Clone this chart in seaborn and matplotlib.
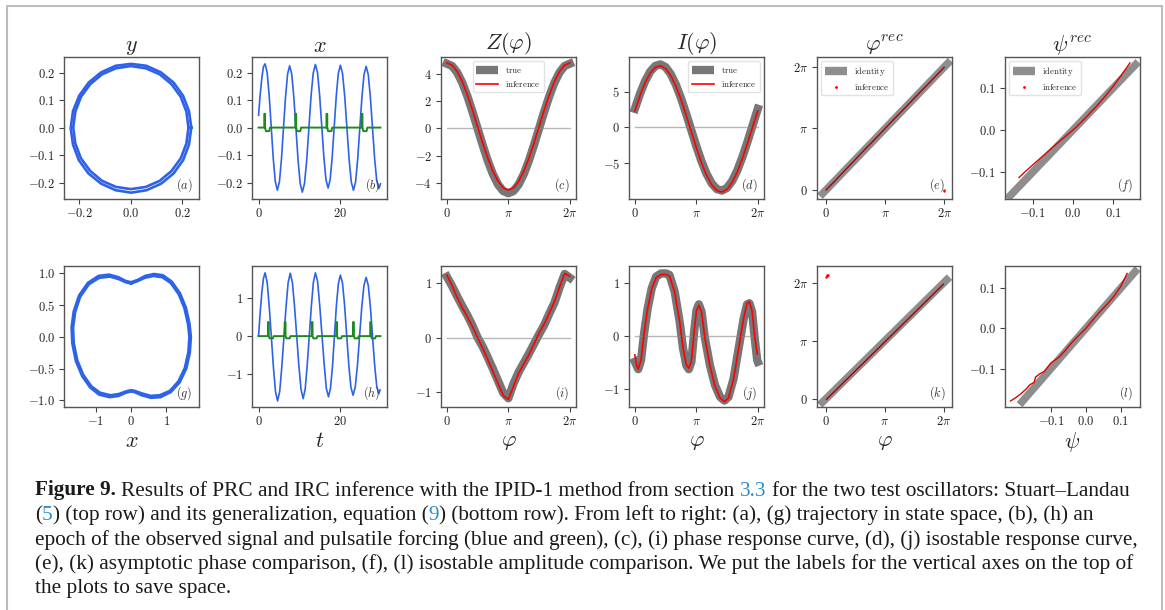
import numpy as np
import seaborn as sns
import matplotlib.pyplot as plt
from matplotlib.lines import Line2D
from matplotlib.patches import Rectangle

sns.set_theme(style="ticks")
plt.rcParams['mathtext.fontset'] = 'cm'
plt.rcParams['font.family'] = ['DejaVu Serif']
plt.rcParams['lines.solid_capstyle'] = 'projecting'

# ---------------- data ----------------
# (a) Stuart-Landau trajectory, two loops of the band
a_out_x = [0.235, 0.226, 0.203, 0.166, 0.117, 0.060, 0.001, -0.059, -0.116, -0.164, -0.201, -0.225, -0.234,
           -0.225, -0.202, -0.165, -0.116, -0.059, 0.001, 0.061, 0.118, 0.166, 0.203, 0.226, 0.235]
a_out_y = [0.0, 0.060, 0.116, 0.164, 0.201, 0.225, 0.232, 0.225, 0.201, 0.164, 0.116, 0.060, -0.002,
           -0.062, -0.119, -0.167, -0.204, -0.228, -0.237, -0.228, -0.204, -0.167, -0.119, -0.062, 0.0]
a_in_x = [0.224, 0.216, 0.194, 0.158, 0.112, 0.058, 0.0, -0.058, -0.112, -0.158, -0.194, -0.216, -0.224,
          -0.216, -0.194, -0.158, -0.112, -0.058, 0.0, 0.058, 0.112, 0.158, 0.194, 0.216, 0.224]
a_in_y = [0.0, 0.058, 0.112, 0.158, 0.194, 0.216, 0.224, 0.216, 0.194, 0.158, 0.112, 0.058, 0.0,
          -0.058, -0.112, -0.158, -0.194, -0.216, -0.224, -0.216, -0.194, -0.158, -0.112, -0.058, 0.0]

# (b) observed signal and forcing
b_t = [0.0, 0.4, 0.8, 1.2, 1.6, 2.1, 2.6, 3.1, 3.6, 4.1, 4.6, 5.1, 5.6, 6.1, 6.6, 7.1, 7.6,
       8.12, 8.63, 9.15, 9.67, 10.18, 10.7, 11.23, 11.77, 12.3, 12.83, 13.37, 13.9,
       14.42, 14.93, 15.45, 15.97, 16.48, 17.0, 17.5, 18.0, 18.5, 19.0, 19.5, 20.0,
       20.53, 21.07, 21.6, 22.13, 22.67, 23.2, 23.72, 24.23, 24.75, 25.27, 25.78, 26.3,
       26.82, 27.33, 27.85, 28.37, 28.88, 29.4, 29.8]
b_x = [0.045, 0.12, 0.18, 0.222, 0.232, 0.201, 0.117, 0.002, -0.113, -0.197, -0.228,
       -0.198, -0.115, 0.0, 0.112, 0.195, 0.225, 0.194, 0.110, -0.005, -0.120, -0.204, -0.235,
       -0.204, -0.119, -0.003, 0.114, 0.199, 0.230, 0.200, 0.118, 0.005, -0.108, -0.190, -0.220,
       -0.190, -0.108, 0.004, 0.115, 0.197, 0.227, 0.197, 0.113, 0.0, -0.114, -0.198, -0.228,
       -0.198, -0.115, -0.003, 0.110, 0.193, 0.223, 0.193, 0.112, 0.0, -0.111, -0.192, -0.222, -0.205]
b_ft = [0.0, 1.4, 1.4, 1.6, 1.6, 1.8, 2.6, 2.8, 9.0, 9.0, 9.2, 9.2, 9.4, 10.2, 10.4,
        16.6, 16.6, 16.8, 16.8, 17.0, 17.8, 18.0, 25.2, 25.2, 25.4, 25.4, 25.6, 26.4, 26.6, 29.8]
b_f = [0.0, 0.0, 0.05, 0.05, 0.0, -0.013, -0.013, 0.0, 0.0, 0.05, 0.05, 0.0, -0.013, -0.013, 0.0,
       0.0, 0.05, 0.05, 0.0, -0.013, -0.013, 0.0, 0.0, 0.05, 0.05, 0.0, -0.013, -0.013, 0.0, 0.0]

# (c), (d) PRC / IRC on a grid of 25 phases
phi25 = np.linspace(0, 2 * np.pi, 25)
c_true = [4.72, 4.56, 4.09, 3.34, 2.36, 1.22, 0.0, -1.22, -2.36, -3.34, -4.09, -4.56, -4.72,
          -4.56, -4.09, -3.34, -2.36, -1.22, 0.0, 1.22, 2.36, 3.34, 4.09, 4.56, 4.72]
c_inf = [4.78, 4.62, 4.16, 3.42, 2.46, 1.34, 0.13, -1.07, -2.18, -3.13, -3.86, -4.33, -4.49,
         -4.33, -3.86, -3.13, -2.18, -1.07, 0.13, 1.34, 2.46, 3.42, 4.16, 4.62, 4.78]
d_true = [2.6, 4.69, 6.45, 7.78, 8.57, 8.78, 8.4, 7.44, 5.97, 4.10, 1.95, -0.33, -2.6,
          -4.69, -6.45, -7.78, -8.57, -8.78, -8.4, -7.44, -5.97, -4.10, -1.95, 0.33, 2.6]
d_inf = [2.3, 4.45, 6.25, 7.58, 8.37, 8.58, 8.2, 7.24, 5.77, 3.9, 1.75, -0.53, -2.8,
         -4.89, -6.65, -7.98, -8.77, -8.98, -8.6, -7.64, -6.17, -4.3, -2.15, 0.13, 2.3]

# (e), (f) phase / amplitude comparison
e_id = [-0.18, 6.47]
e_x = [0.0, 0.5, 1.0, 1.5, 2.0, 2.5, 3.0, 3.5, 4.0, 4.5, 5.0, 5.5, 6.0, 6.27]
e_y = [0.0, 0.49, 1.0, 1.5, 2.01, 2.5, 3.0, 3.51, 4.0, 4.5, 5.0, 5.49, 5.99, 6.26]
e_out_x = [6.24, 6.26]
e_out_y = [-0.03, -0.01]
f_id = [-0.157, 0.156]
f_x = [-0.134, -0.12, -0.1, -0.08, -0.06, -0.04, -0.02, 0.0, 0.02, 0.04, 0.06, 0.08, 0.1, 0.12, 0.142]
f_y = [-0.113, -0.100, -0.083, -0.066, -0.049, -0.032, -0.016, 0.0, 0.018, 0.038, 0.058, 0.080,
       0.104, 0.130, 0.160]

# (g) generalized oscillator trajectory
g_out_x = [0, 0.2, 0.4, 0.65, 0.9, 1.15, 1.38, 1.55, 1.65, 1.69, 1.66, 1.56, 1.37, 1.12, 0.83, 0.56,
           0.3, 0.1, 0, -0.15, -0.35, -0.6, -0.9, -1.15, -1.38, -1.56, -1.66, -1.68, -1.62, -1.47,
           -1.22, -0.92, -0.62, -0.36, -0.15, 0]
g_out_y = [0.86, 0.90, 0.96, 0.99, 0.97, 0.87, 0.69, 0.46, 0.21, 0.0, -0.25, -0.50, -0.72, -0.87,
           -0.95, -0.96, -0.92, -0.87, -0.86, -0.88, -0.93, -0.95, -0.91, -0.80, -0.62, -0.38, -0.10,
           0.15, 0.40, 0.65, 0.85, 0.96, 0.98, 0.94, 0.88, 0.86]
g_in_x = [0, 0.19, 0.39, 0.63, 0.88, 1.12, 1.35, 1.51, 1.61, 1.65, 1.62, 1.52, 1.34, 1.1, 0.81, 0.55,
          0.3, 0.1, 0, -0.15, -0.34, -0.58, -0.88, -1.12, -1.35, -1.52, -1.62, -1.64, -1.58, -1.44,
          -1.19, -0.9, -0.6, -0.35, -0.15, 0]
g_in_y = [0.84, 0.88, 0.93, 0.96, 0.94, 0.85, 0.67, 0.45, 0.2, 0.0, -0.24, -0.49, -0.7, -0.85,
          -0.92, -0.93, -0.89, -0.85, -0.84, -0.86, -0.9, -0.92, -0.88, -0.78, -0.6, -0.37, -0.1,
          0.14, 0.39, 0.63, 0.83, 0.93, 0.95, 0.91, 0.86, 0.84]

# (h) observed signal and forcing
h_t = [0.0, 0.4, 0.8, 1.2, 1.6, 2.11, 2.62, 3.13, 3.63, 4.14, 4.65, 5.17, 5.68, 6.2, 6.72, 7.23, 7.75,
       8.28, 8.8, 9.33, 9.85, 10.38, 10.9, 11.4, 11.9, 12.4, 12.9, 13.4, 13.9, 14.43, 14.97, 15.5,
       16.03, 16.57, 17.1, 17.58, 18.07, 18.55, 19.03, 19.52, 20.0, 20.52, 21.03, 21.55, 22.07,
       22.58, 23.1, 23.63, 24.17, 24.7, 25.23, 25.77, 26.3, 26.82, 27.33, 27.85, 28.37, 28.88,
       29.4, 29.7]
h_x = [0.0, 0.62, 1.15, 1.52, 1.67, 1.42, 0.77, -0.02, -0.81, -1.46, -1.71, -1.46, -0.82, -0.025,
       0.77, 1.41, 1.66, 1.41, 0.78, 0.0, -0.77, -1.4, -1.65, -1.4, -0.76, 0.01, 0.78, 1.42, 1.67,
       1.45, 0.79, 0.03, -0.72, -1.38, -1.6, -1.38, -0.8, 0.0, 0.81, 1.39, 1.61, 1.4, 0.82, 0.02,
       -0.77, -1.35, -1.56, -1.35, -0.78, 0.0, 0.77, 1.34, 1.55, 1.34, 0.78, 0.01, -0.75, -1.31,
       -1.52, -1.42]
h_ft = [0.0, 2.3, 2.3, 2.5, 2.5, 2.7, 3.5, 3.7, 6.4, 6.4, 6.6, 6.6, 6.8, 7.6, 7.8,
        13.0, 13.0, 13.2, 13.2, 13.4, 14.2, 14.4, 19.0, 19.0, 19.2, 19.2, 19.4, 20.2, 20.4,
        23.1, 23.1, 23.3, 23.3, 23.5, 24.3, 24.5, 27.3, 27.3, 27.5, 27.5, 27.7, 28.5, 28.7, 29.8]
h_f = [0.0] + [0.0, 0.37, 0.37, 0.0, -0.06, -0.06, 0.0] * 6 + [0.0]

# (i) PRC, (j) IRC of the generalized oscillator
i_true = [1.12, 0.95, 0.76, 0.58, 0.41, 0.22, 0.0, -0.17, -0.37, -0.58, -0.80, -1.02, -1.12,
          -0.85, -0.64, -0.47, -0.30, -0.12, 0.06, 0.23, 0.44, 0.64, 0.92, 1.17, 1.10]
i_inf = [1.15, 0.96, 0.74, 0.55, 0.38, 0.20, 0.0, -0.20, -0.41, -0.63, -0.85, -1.07, -1.14,
         -0.90, -0.66, -0.49, -0.32, -0.12, 0.08, 0.25, 0.45, 0.66, 0.93, 1.18, 1.13]
j_true_phi = [0, 0.055, 0.1, 0.153, 0.208, 0.274, 0.345, 0.427, 0.51, 0.564, 0.647, 0.729, 0.784,
              0.838, 0.877, 0.92, 0.964, 1.003, 1.041, 1.085, 1.14, 1.222, 1.304, 1.386, 1.458,
              1.523, 1.605, 1.688, 1.77, 1.825, 1.863, 1.907, 1.95, 1.99, 2.0]  # units of pi
j_true = [-0.48, -0.62, -0.45, 0.08, 0.52, 0.90, 1.12, 1.18, 1.18, 1.15, 0.84, 0.27, -0.23, -0.55,
          -0.62, -0.48, 0.08, 0.49, 0.60, 0.46, -0.04, -0.55, -0.92, -1.14, -1.21, -1.14, -0.80,
          -0.23, 0.33, 0.60, 0.62, 0.46, -0.04, -0.45, -0.48]
j_inf_phi = [0, 0.03, 0.055, 0.1, 0.153, 0.208, 0.274, 0.345, 0.427, 0.51, 0.564, 0.647, 0.729,
             0.784, 0.838, 0.877, 0.92, 0.964, 1.003, 1.041, 1.085, 1.14, 1.222, 1.304, 1.386,
             1.458, 1.523, 1.605, 1.688, 1.77, 1.825, 1.863, 1.907, 1.95, 1.99]
j_inf = [-0.35, -0.55, -0.62, -0.44, 0.08, 0.52, 0.89, 1.10, 1.16, 1.16, 1.13, 0.83, 0.27, -0.22,
         -0.54, -0.60, -0.47, 0.08, 0.48, 0.58, 0.45, -0.04, -0.56, -0.94, -1.16, -1.23, -1.16,
         -0.81, -0.23, 0.34, 0.62, 0.65, 0.47, 0.0, -0.33]

# (k), (l) comparisons
k_id = [-0.2, 6.45]
k_x = [0.02, 0.5, 1.0, 1.5, 2.0, 2.5, 3.0, 3.5, 4.0, 4.5, 5.0, 5.5, 6.0, 6.27]
k_y = [-0.04, 0.44, 0.94, 1.44, 1.94, 2.44, 2.94, 3.44, 3.94, 4.44, 4.94, 5.44, 5.94, 6.21]
k_out_x = [0.0, 0.03, 0.06, 0.08]
k_out_y = [6.62, 6.66, 6.70, 6.73]
l_id = [-0.183, 0.142]
l_x = [-0.216, -0.2, -0.185, -0.17, -0.16, -0.154, -0.148, -0.144, -0.13, -0.12, -0.11, -0.1,
       -0.09, -0.076, -0.06, -0.047, -0.03, -0.015, 0.0, 0.02, 0.041, 0.06, 0.08, 0.1, 0.119]
l_y = [-0.181, -0.172, -0.162, -0.150, -0.140, -0.1375, -0.134, -0.121, -0.112, -0.108, -0.097,
       -0.086, -0.080, -0.071, -0.056, -0.042, -0.026, -0.013, 0.0, 0.021, 0.042, 0.059, 0.079,
       0.104, 0.1375]

# tick labels
pi_ticks = [0, np.pi, 2 * np.pi]
pi_labels = [r'$0$', r'$\pi$', r'$2\pi$']
small_ticks = [-0.2, -0.1, 0.0, 0.1, 0.2]
small_labels = [r'$-0.2$', r'$-0.1$', r'$0.0$', r'$0.1$', r'$0.2$']

titles = [r'$y$', r'$x$', r'$Z(\varphi)$', r'$I(\varphi)$', r'$\varphi^{rec}$', r'$\psi^{rec}$']
xlabels = [r'$x$', r'$t$', r'$\varphi$', r'$\varphi$', r'$\varphi$', r'$\psi$']

BLUE = '#2e62e9'
GREEN = '#1e8a1e'
GRAY = '#777777'
IDGRAY = '#8e8e8e'
RED = '#ff0000'

# ---------------- figure ----------------
W, H = 1165, 610
fig = plt.figure(figsize=(W / 100, H / 100), dpi=100)
lefts = [64, 252, 441, 629, 817, 1005]
names = [list('abcdef'), list('ghijkl')]
ax = {}
for r, (top, hgt) in enumerate([(57, 142), (266, 141)]):
    for c, left in enumerate(lefts):
        ax[names[r][c]] = fig.add_axes([left / W, 1 - (top + hgt) / H, 135 / W, hgt / H])


def line(a, x, y, **kw):
    sns.lineplot(x=x, y=y, ax=a, sort=False, estimator=None, legend=False, **kw)


def style(a, xt, xl, yt, yl, xlim, ylim, tag):
    a.set_xticks(xt, xl)
    a.set_yticks(yt, yl)
    a.set_xlim(xlim)
    a.set_ylim(ylim)
    a.set(xlabel='', ylabel='')
    a.tick_params(labelsize=9, length=3.5, width=0.8, color='#444444', labelcolor='#222222')
    a.tick_params(axis='x', pad=2.5)
    a.tick_params(axis='y', pad=3)
    for s in a.spines.values():
        s.set_color('#555555')
        s.set_linewidth(1.0)
    a.text(0.95, 0.1, r'$(%s)$' % tag, transform=a.transAxes, ha='right', va='center',
           fontsize=8.8, color='#333333')


def curve_legend(a, loc, first, dot=False):
    h1 = Line2D([], [], color=GRAY if not dot else IDGRAY, lw=6, solid_capstyle='butt')
    if dot:
        h2 = Line2D([], [], color=RED, marker='.', ms=2, ls='none')
    else:
        h2 = Line2D([], [], color=RED, lw=1.2)
    a.legend([h1, h2], [r'$\mathrm{%s}$' % first, r'$\mathrm{inference}$'], loc=loc, fontsize=6.3,
             handlelength=2.5, borderpad=0.4, labelspacing=0.45, framealpha=0.85,
             edgecolor='#dddddd', fancybox=True)


# trajectories
for key, ox, oy, ix, iy in [('a', a_out_x, a_out_y, a_in_x, a_in_y),
                            ('g', g_out_x, g_out_y, g_in_x, g_in_y)]:
    line(ax[key], ox, oy, color=BLUE, lw=1.9)
    line(ax[key], ix, iy, color=BLUE, lw=1.9)

# time series
line(ax['b'], b_t, b_x, color=BLUE, lw=1.2)
line(ax['b'], b_ft, b_f, color=GREEN, lw=1.4)
line(ax['h'], h_t, h_x, color=BLUE, lw=1.2)
line(ax['h'], h_ft, h_f, color=GREEN, lw=1.4)

# response curves
zero_x = [0, 2 * np.pi]
zero_y = [0, 0]
for key, xt, yt, xi, yi in [('c', phi25, c_true, phi25, c_inf),
                            ('d', phi25, d_true, phi25, d_inf),
                            ('i', phi25, i_true, phi25, i_inf),
                            ('j', np.array(j_true_phi) * np.pi, j_true,
                             np.array(j_inf_phi) * np.pi, j_inf)]:
    line(ax[key], xt, yt, color=GRAY, lw=6)
    line(ax[key], zero_x, zero_y, color='#888888', lw=1, alpha=0.6)
    line(ax[key], xi, yi, color=RED, lw=1.2)
curve_legend(ax['c'], 'upper center', 'true')
curve_legend(ax['d'], 'upper right', 'true')

# comparisons
for key, idv, xs, ys, col in [('e', e_id, e_x, e_y, '#a80000'), ('f', f_id, f_x, f_y, '#e00000'),
                              ('k', k_id, k_x, k_y, '#a80000'), ('l', l_id, l_x, l_y, '#e00000')]:
    line(ax[key], idv, idv, color=IDGRAY, lw=5.5)
    line(ax[key], xs, ys, color=col, lw=1.0)
sns.scatterplot(x=e_out_x, y=e_out_y, ax=ax['e'], color=RED, s=3, linewidth=0, legend=False)
sns.scatterplot(x=k_out_x, y=k_out_y, ax=ax['k'], color=RED, s=3, linewidth=0, legend=False)
curve_legend(ax['e'], 'upper left', 'identity', dot=True)
curve_legend(ax['f'], 'upper left', 'identity', dot=True)

# axes styling
style(ax['a'], [-0.2, 0.0, 0.2], [r'$-0.2$', r'$0.0$', r'$0.2$'], small_ticks, small_labels,
      (-0.26, 0.265), (-0.26, 0.257), 'a')
style(ax['b'], [0, 20], [r'$0$', r'$20$'], small_ticks, small_labels,
      (-1.6, 31.4), (-0.26, 0.257), 'b')
style(ax['c'], pi_ticks, pi_labels, [-4, -2, 0, 2, 4], [r'$-4$', r'$-2$', r'$0$', r'$2$', r'$4$'],
      (-0.3, 6.6), (-5.14, 5.21), 'c')
style(ax['d'], pi_ticks, pi_labels, [-5, 0, 5], [r'$-5$', r'$0$', r'$5$'],
      (-0.3, 6.6), (-9.95, 9.81), 'd')
style(ax['e'], pi_ticks, pi_labels, pi_ticks, pi_labels, (-0.48, 6.69), (-0.46, 6.79), 'e')
style(ax['f'], [-0.1, 0.0, 0.1], [r'$-0.1$', r'$0.0$', r'$0.1$'],
      [-0.1, 0.0, 0.1], [r'$-0.1$', r'$0.0$', r'$0.1$'], (-0.169, 0.167), (-0.164, 0.174), 'f')
style(ax['g'], [-1, 0, 1], [r'$-1$', r'$0$', r'$1$'], [-1.0, -0.5, 0.0, 0.5, 1.0],
      [r'$-1.0$', r'$-0.5$', r'$0.0$', r'$0.5$', r'$1.0$'], (-1.895, 1.92), (-1.105, 1.116), 'g')
style(ax['h'], [0, 20], [r'$0$', r'$20$'], [-1, 0, 1], [r'$-1$', r'$0$', r'$1$'],
      (-1.6, 31.4), (-1.87, 1.85), 'h')
style(ax['i'], pi_ticks, pi_labels, [-1, 0, 1], [r'$-1$', r'$0$', r'$1$'],
      (-0.3, 6.6), (-1.28, 1.317), 'i')
style(ax['j'], pi_ticks, pi_labels, [-1, 0, 1], [r'$-1$', r'$0$', r'$1$'],
      (-0.3, 6.6), (-1.33, 1.32), 'j')
style(ax['k'], pi_ticks, pi_labels, pi_ticks, pi_labels, (-0.49, 6.73), (-0.46, 7.2), 'k')
style(ax['l'], [-0.1, 0.0, 0.1], [r'$-0.1$', r'$0.0$', r'$0.1$'],
      [-0.1, 0.0, 0.1], [r'$-0.1$', r'$0.0$', r'$0.1$'], (-0.232, 0.156), (-0.196, 0.156), 'l')

for c, key in enumerate(names[0]):
    ax[key].set_title(titles[c], fontsize=16, pad=1.5)
for c, key in enumerate(names[1]):
    ax[key].set_xlabel(xlabels[c], fontsize=16, labelpad=1.5)

# ---------------- caption ----------------
CAP_BLUE = '#2b8ccc'
caption = [
    [("Figure 9.", 'k', 'bold', False),
     ("Results of PRC and IRC inference with the IPID-1 method from section", 'k', 'normal', True),
     ("3.3", CAP_BLUE, 'normal', True),
     ("for the two test oscillators: Stuart\u2013Landau", 'k', 'normal', True)],
    [("(", 'k', 'normal', False), ("5", CAP_BLUE, 'normal', False),
     (") (top row) and its generalization, equation (", 'k', 'normal', False),
     ("9", CAP_BLUE, 'normal', False),
     (") (bottom row). From left to right: (a), (g) trajectory in state space, (b), (h) an",
      'k', 'normal', False)],
    [("epoch of the observed signal and pulsatile forcing (blue and green), (c), (i) phase "
      "response curve, (d), (j) isostable response curve,", 'k', 'normal', False)],
    [("(e), (k) asymptotic phase comparison, (f), (l) isostable amplitude comparison. We put "
      "the labels for the vertical axes on the top of", 'k', 'normal', False)],
    [("the plots to save space.", 'k', 'normal', False)],
]
baselines = [495.5, 520.0, 544.5, 568.5, 592.5]
renderer = fig.canvas.get_renderer()


def text_width(s, size, weight='normal'):
    t = fig.text(0, 0, s, fontsize=size, fontweight=weight, family='Liberation Serif')
    w = t.get_window_extent(renderer).width
    t.remove()
    return w


cap_size = 10 * 1100 / text_width(caption[2][0][0], 10)
space_w = text_width('x x', cap_size) - text_width('xx', cap_size)
for parts, base in zip(caption, baselines):
    x = 35
    for s, col, weight, gap in parts:
        if gap:
            x += space_w
        t = fig.text(x / W, 1 - base / H, s, fontsize=cap_size, fontweight=weight, color=col,
                     family='Liberation Serif', va='baseline', ha='left')
        x += t.get_window_extent(renderer).width

# page frame
fig.add_artist(Rectangle((7 / W, -0.05), 1155 / W, 1.05 - 6 / H, transform=fig.transFigure,
                         fill=False, edgecolor='#bdbdbd', lw=1.5))

fig.savefig('out.png', dpi=100)
